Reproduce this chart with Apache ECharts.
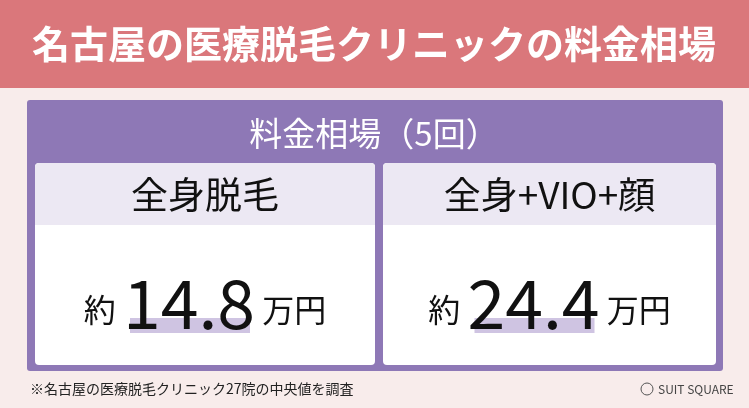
<!DOCTYPE html>
<html><head><meta charset="utf-8">
<script src="https://cdn.jsdelivr.net/npm/echarts@6/dist/echarts.min.js"></script>
<style>html,body{margin:0;padding:0}#c{width:749px;height:408px}</style>
</head><body><div id="c"></div>
<script>
var title = '名古屋の医療脱毛クリニックの料金相場';
var boxTitle = '料金相場（5回）';
var plans = ['全身脱毛', '全身+VIO+顔'];
var prices = [14.8, 24.4];
var note = '※名古屋の医療脱毛クリニック27院の中央値を調査';
var brand = 'SUIT SQUARE';

var font = '"Noto Sans CJK JP", "Noto Sans", sans-serif';
var chart = echarts.init(document.getElementById('c'));
var els = [
  { type: 'rect', shape: { x: 0, y: 0, width: 749, height: 408 }, style: { fill: '#f8eceb' } },
  { type: 'rect', shape: { x: 0, y: 0, width: 749, height: 88 }, style: { fill: '#da777b' } },
  { type: 'text', x: 374, y: 44, style: { text: title, fill: '#fff', font: 'bold 38px ' + font, align: 'center', verticalAlign: 'middle' } },
  { type: 'rect', shape: { x: 27, y: 100, width: 696, height: 271, r: 3 }, style: { fill: '#8e78b6' } },
  { type: 'text', x: 374, y: 133, style: { text: boxTitle, fill: '#fff', font: '33px ' + font, align: 'center', verticalAlign: 'middle' } }
];
var cardX = [35, 383], cardW = [340, 333];
plans.forEach(function (p, i) {
  var x = cardX[i], w = cardW[i], cx = x + w / 2;
  els.push({ type: 'rect', shape: { x: x, y: 163, width: w, height: 202, r: 4 }, style: { fill: '#fff' } });
  els.push({ type: 'rect', shape: { x: x, y: 163, width: w, height: 62, r: [4, 4, 0, 0] }, style: { fill: '#ece8f3' } });
  els.push({ type: 'text', x: cx, y: 195, style: { text: p, fill: '#111', font: '37px ' + font, align: 'center', verticalAlign: 'middle' } });
  els.push({ type: 'rect', shape: { x: cx - 75, y: 318, width: 120, height: 15 }, style: { fill: '#cfc4e2' } });
  els.push({ type: 'text', x: cx, y: 303, style: {
    text: '{a|約 }{b|' + prices[i].toFixed(1) + '}{a| 万円}', align: 'center', verticalAlign: 'middle',
    rich: { a: { fontSize: 32, fontFamily: font, fill: '#111', padding: [14, 0, 0, 0] }, b: { fontSize: 68, fontFamily: font, fill: '#111' } }
  } });
});
els.push({ type: 'text', x: 30, y: 389, style: { text: note, fill: '#222', font: '14px ' + font, verticalAlign: 'middle' } });
els.push({ type: 'circle', shape: { cx: 647, cy: 389, r: 6 }, style: { fill: 'none', stroke: '#555', lineWidth: 1 } });
els.push({ type: 'text', x: 658, y: 389, style: { text: brand, fill: '#444', font: '12px ' + font, verticalAlign: 'middle' } });

chart.setOption({ animation: false, graphic: { elements: els } });
</script></body></html>
